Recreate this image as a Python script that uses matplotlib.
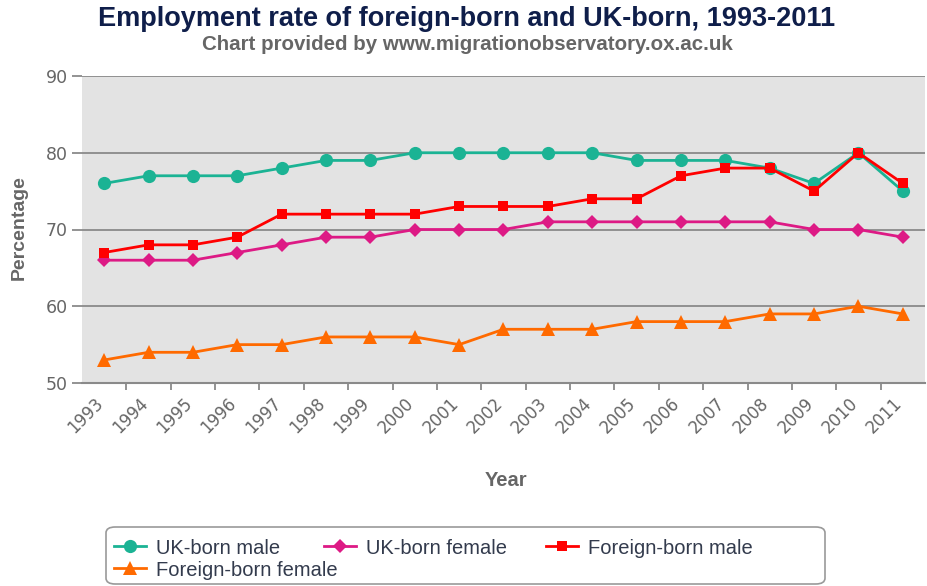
import matplotlib
matplotlib.use("Agg")
import matplotlib.pyplot as plt
from matplotlib.lines import Line2D
from matplotlib.patches import FancyBboxPatch

years = ["1993", "1994", "1995", "1996", "1997", "1998", "1999", "2000", "2001", "2002",
         "2003", "2004", "2005", "2006", "2007", "2008", "2009", "2010", "2011"]
uk_male = [76, 77, 77, 77, 78, 79, 79, 80, 80, 80, 80, 80, 79, 79, 79, 78, 76, 80, 75]
uk_female = [66, 66, 66, 67, 68, 69, 69, 70, 70, 70, 71, 71, 71, 71, 71, 71, 70, 70, 69]
fb_male = [67, 68, 68, 69, 72, 72, 72, 72, 73, 73, 73, 74, 74, 77, 78, 78, 75, 80, 76]
fb_female = [53, 54, 54, 55, 55, 56, 56, 56, 55, 57, 57, 57, 58, 58, 58, 59, 59, 60, 59]
y_ticks = [50, 60, 70, 80, 90]

series = [
    ("UK-born male", uk_male, "#1bb394", "o", 9.5),
    ("UK-born female", uk_female, "#dd1a85", "D", 7.5),
    ("Foreign-born male", fb_male, "#ff0000", "s", 7.5),
    ("Foreign-born female", fb_female, "#ff6a00", "^", 9.5),
]

fig = plt.figure(figsize=(9.27, 5.86), dpi=100)
W, H = 927, 586
ax = fig.add_axes([82 / W, 1 - 383 / H, (925 - 82) / W, (383 - 76) / H])
ax.set_facecolor("#e3e3e3")

x = list(range(len(years)))
draw_order = [3, 1, 0, 2]
for i in draw_order:
    name, vals, col, mk, ms = series[i]
    ax.plot(x, vals, color=col, lw=2.0, marker=mk, markersize=ms,
            markeredgewidth=0, zorder=3 + i, clip_on=False)

ax.set_xlim(-0.5, len(years) - 0.5)
ax.set_ylim(50, 90)
ax.set_yticks(y_ticks)
ax.set_yticklabels([str(v) for v in y_ticks], fontsize=12.5, color="#666666",
                   family="DejaVu Sans")
ax.yaxis.grid(True, color="#8a8a8a", lw=1.3, zorder=1)
ax.set_axisbelow(True)
ax.tick_params(axis="y", length=7, width=1.3, color="#8a8a8a", pad=3)

# category boundary ticks
ax.set_xticks([v + 0.5 for v in x[:-1]], minor=True)
ax.set_xticks(x)
ax.set_xticklabels(years, rotation=45, ha="right", va="baseline", rotation_mode="anchor",
                   fontsize=12, color="#666666", family="DejaVu Sans")
ax.tick_params(axis="x", which="major", length=0, pad=15)
ax.tick_params(axis="x", which="minor", length=5, width=1.3, color="#8a8a8a")

for s in ["top", "right", "left"]:
    ax.spines[s].set_visible(False)
ax.spines["bottom"].set_color("#8a8a8a")
ax.spines["bottom"].set_linewidth(1.5)

fig.text(467 / W, 1 - 19 / H, "Employment rate of foreign-born and UK-born, 1993-2011",
         ha="center", va="center", fontsize=19.5, fontweight="bold", color="#0f1e4a",
         family="Liberation Sans")
fig.text(467 / W, 1 - 45 / H, "Chart provided by www.migrationobservatory.ox.ac.uk",
         ha="center", va="center", fontsize=14.8, fontweight="bold", color="#666666",
         family="Liberation Sans")
fig.text(19 / W, 1 - 228 / H, "Percentage", rotation=90, ha="center", va="center",
         fontsize=14, fontweight="bold", color="#666666", family="Liberation Sans")
fig.text(506 / W, 1 - 481 / H, "Year", ha="center", va="center",
         fontsize=14.5, fontweight="bold", color="#666666", family="Liberation Sans")

# legend box
box = FancyBboxPatch((106 / W, 1 - 584 / H), (825 - 106) / W, (584 - 527) / H,
                     boxstyle="round,pad=0,rounding_size=0.01",
                     transform=fig.transFigure, facecolor="white",
                     edgecolor="#999999", lw=1.2)
fig.patches.append(box)

handles = [Line2D([0], [0], color=c, lw=2.0, marker=m, markersize=ms, markeredgewidth=0)
           for _, _, c, m, ms in series]
labels = [s[0] for s in series]
# legend item positions (left of handle, row centre) in pixels
legend_pos = [(114, 548), (324, 548), (546, 548), (114, 570)]
for h, l, (px, py) in zip(handles, labels, legend_pos):
    leg = fig.legend([h], [l], loc="center left", bbox_to_anchor=(px / W, 1 - py / H),
                     frameon=False, handlelength=1.6, handletextpad=0.5,
                     borderaxespad=0, borderpad=0,
                     prop={"family": "Liberation Sans", "size": 14.5})
    for t in leg.get_texts():
        t.set_color("#333b4d")

fig.savefig("out.png", dpi=100)
